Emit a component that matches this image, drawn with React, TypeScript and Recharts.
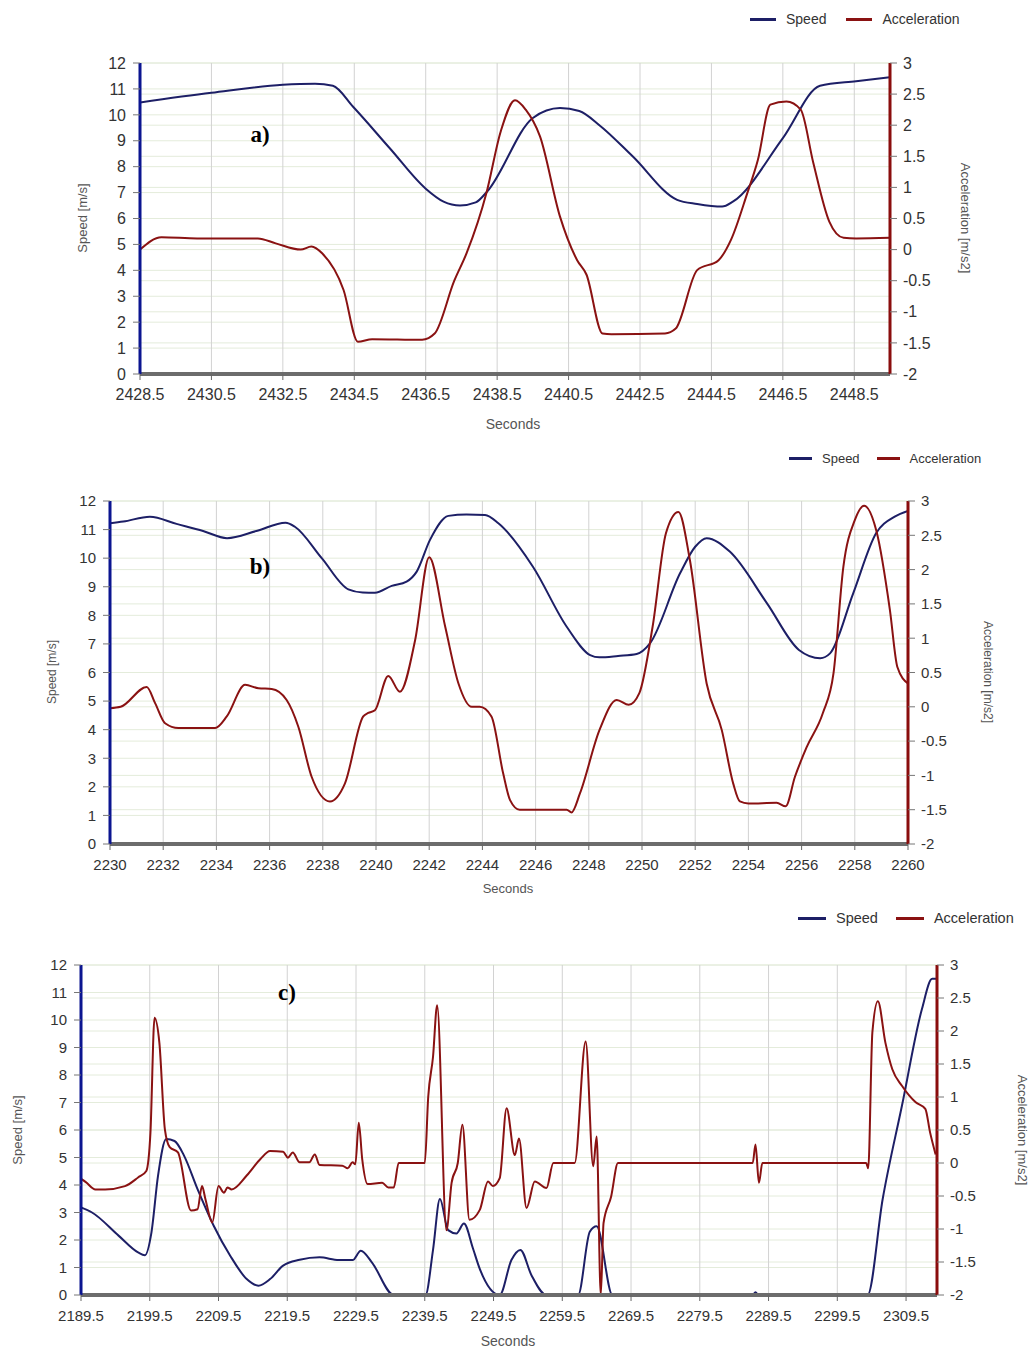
import React from 'react'
import { LineChart, Line, XAxis, YAxis, CartesianGrid, Legend, Label } from 'recharts'

const FONT = '"Liberation Sans", Arial, sans-serif'

// shared axes
const speedTicks = [0, 1, 2, 3, 4, 5, 6, 7, 8, 9, 10, 11, 12]
const accTicks = [-2, -1.5, -1, -0.5, 0, 0.5, 1, 1.5, 2, 2.5, 3]
const seriesOrder = ['Speed', 'Acceleration']

// panel a)
const xTicksA = [2428.5, 2430.5, 2432.5, 2434.5, 2436.5, 2438.5, 2440.5, 2442.5, 2444.5, 2446.5, 2448.5]
const speedTimeA = [2428.5, 2430.5, 2432.5, 2433.4, 2433.9, 2434.46, 2435.5, 2436.5, 2437.0, 2437.46, 2437.9, 2438.22, 2439.5, 2440.26, 2440.8, 2441.38, 2442.3, 2443.54, 2444.1, 2444.8, 2445.1, 2446.5, 2447.54, 2448.55, 2449.5]
const speedA = [10.48, 10.85, 11.16, 11.2, 11.12, 10.32, 8.7, 7.15, 6.65, 6.5, 6.62, 7.04, 9.88, 10.26, 10.15, 9.58, 8.39, 6.72, 6.56, 6.46, 6.65, 9.1, 11.12, 11.3, 11.45]
const accTimeA = [2428.5, 2429.1, 2430.1, 2431.8, 2432.3, 2433.0, 2433.3, 2433.6, 2434.2, 2434.6, 2435.0, 2436.4, 2436.75, 2437.3, 2437.65, 2438.2, 2438.6, 2439.0, 2439.3, 2439.7, 2440.26, 2440.74, 2441.0, 2441.45, 2441.7, 2443.2, 2443.5, 2444.1, 2444.7, 2445.05, 2445.5, 2445.8, 2446.15, 2446.6, 2447.0, 2447.35, 2447.8, 2448.2, 2448.55, 2449.5]
const accA = [0.0, 0.2, 0.18, 0.18, 0.1, 0.0, 0.05, -0.06, -0.65, -1.48, -1.44, -1.45, -1.35, -0.5, -0.05, 0.91, 1.9, 2.4, 2.25, 1.82, 0.53, -0.17, -0.4, -1.35, -1.36, -1.35, -1.27, -0.33, -0.17, 0.16, 0.9, 1.44, 2.33, 2.38, 2.25, 1.4, 0.45, 0.19, 0.18, 0.19]

// panel b)
const xTicksB = [2230, 2232, 2234, 2236, 2238, 2240, 2242, 2244, 2246, 2248, 2250, 2252, 2254, 2256, 2258, 2260]
const speedTimeB = [2230, 2230.5, 2231.5, 2232.5, 2233.5, 2234.4, 2235.5, 2236.6, 2236.95, 2237.96, 2238.96, 2239.5, 2239.96, 2240.59, 2241.15, 2241.53, 2242.03, 2242.72, 2243.4, 2244.1, 2244.6, 2245.9, 2247.17, 2248.05, 2248.4, 2249.1, 2249.8, 2250.3, 2251.43, 2252.0, 2252.43, 2253.3, 2254.7, 2255.9, 2256.7, 2257.07, 2257.94, 2258.8, 2259.5, 2260]
const speedB = [11.22, 11.28, 11.45, 11.2, 10.95, 10.7, 10.95, 11.24, 11.1, 10.0, 8.91, 8.8, 8.79, 9.03, 9.18, 9.53, 10.64, 11.48, 11.53, 11.51, 11.22, 9.7, 7.6, 6.61, 6.53, 6.58, 6.65, 7.02, 9.47, 10.4, 10.7, 10.23, 8.42, 6.79, 6.5, 6.67, 8.77, 10.87, 11.45, 11.65]
const accTimeB = [2230, 2230.4, 2231.38, 2231.7, 2232.07, 2232.57, 2233.95, 2234.39, 2235.08, 2235.58, 2236.08, 2236.64, 2237.08, 2237.58, 2238.27, 2238.83, 2239.52, 2239.71, 2239.96, 2240.46, 2240.9, 2241.47, 2242.0, 2242.6, 2243.1, 2243.6, 2243.9, 2244.34, 2244.78, 2245.04, 2245.4, 2245.9, 2247.17, 2247.35, 2247.67, 2248.4, 2249.05, 2249.5, 2249.9, 2250.4, 2250.9, 2251.37, 2251.8, 2252.43, 2253.0, 2253.43, 2253.68, 2254.0, 2255.06, 2255.4, 2255.75, 2256.2, 2256.8, 2257.2, 2257.57, 2258.0, 2258.35, 2258.82, 2259.32, 2259.6, 2260]
const accB = [-0.02, 0.0, 0.29, 0.05, -0.24, -0.31, -0.31, -0.14, 0.32, 0.27, 0.26, 0.1, -0.29, -1.02, -1.38, -1.12, -0.14, -0.09, -0.05, 0.45, 0.22, 0.97, 2.18, 1.17, 0.34, 0.0, 0.0, -0.14, -0.97, -1.36, -1.5, -1.5, -1.5, -1.54, -1.26, -0.34, 0.1, 0.03, 0.2, 1.17, 2.53, 2.84, 2.14, 0.34, -0.34, -1.12, -1.38, -1.41, -1.4, -1.45, -1.02, -0.58, -0.09, 0.49, 2.04, 2.72, 2.93, 2.55, 1.41, 0.58, 0.34]

// panel c)
const xTicksC = [2189.5, 2199.5, 2209.5, 2219.5, 2229.5, 2239.5, 2249.5, 2259.5, 2269.5, 2279.5, 2289.5, 2299.5, 2309.5]
const speedTimeC = [2189.5, 2191.1, 2195.0, 2197.8, 2198.8, 2199.75, 2200.7, 2201.9, 2203.1, 2204.5, 2206.45, 2208.8, 2211.2, 2213.6, 2215.3, 2217.0, 2218.9, 2221.3, 2224.2, 2227.0, 2229.0, 2230.2, 2231.8, 2235.0, 2239.6, 2240.7, 2241.7, 2242.9, 2244.1, 2245.2, 2246.5, 2247.5, 2250.4, 2252.1, 2253.4, 2255.0, 2257.2, 2261.8, 2263.5, 2264.5, 2266.8, 2287.2, 2287.6, 2288.0, 2303.9, 2306.1, 2308.9, 2311.8, 2313.3, 2313.9]
const speedC = [3.18, 3.0, 2.15, 1.55, 1.45, 2.28, 4.33, 5.67, 5.6, 5.06, 3.85, 2.52, 1.43, 0.58, 0.34, 0.58, 1.07, 1.28, 1.37, 1.27, 1.27, 1.61, 1.19, 0, 0, 1.64, 3.49, 2.36, 2.24, 2.6, 1.7, 0.95, 0, 1.27, 1.64, 0.73, 0, 0, 2.3, 2.5, 0, 0, 0.1, 0, 0, 3.49, 6.88, 10.39, 11.5, 11.5]
const accTimeC = [2189.5, 2190.2, 2191.6, 2193.0, 2195.9, 2197.8, 2199.0, 2199.6, 2200.2, 2200.9, 2201.7, 2202.4, 2203.6, 2205.5, 2206.45, 2207.1, 2207.6, 2208.6, 2209.5, 2210.3, 2210.8, 2211.4, 2213.6, 2215.6, 2217.0, 2218.9, 2219.6, 2220.3, 2221.3, 2222.7, 2223.5, 2224.2, 2227.5, 2228.3, 2229.0, 2229.4, 2229.9, 2230.4, 2231.2, 2233.3, 2234.2, 2235.0, 2235.7, 2239.5, 2240.0, 2240.7, 2241.3, 2242.65, 2243.4, 2244.3, 2244.97, 2246.0, 2247.5, 2248.7, 2249.4, 2250.4, 2251.4, 2252.6, 2253.2, 2254.3, 2255.5, 2257.2, 2258.2, 2261.3, 2262.9, 2264.0, 2264.5, 2265.1, 2265.5, 2266.6, 2267.6, 2287.2, 2287.6, 2288.1, 2288.6, 2303.7, 2304.0, 2304.6, 2305.4, 2306.5, 2307.5, 2308.9, 2310.9, 2312.3, 2313.0, 2313.8]
const accC = [-0.24, -0.29, -0.4, -0.4, -0.35, -0.22, -0.12, 0.46, 2.2, 1.82, 0.51, 0.24, 0.16, -0.72, -0.7, -0.35, -0.55, -0.9, -0.35, -0.45, -0.37, -0.4, -0.19, 0.06, 0.18, 0.17, 0.08, 0.16, 0.01, 0.01, 0.13, -0.03, -0.04, -0.08, 0.01, -0.02, 0.61, 0.06, -0.32, -0.3, -0.37, -0.37, 0.0, 0, 1.0, 1.61, 2.39, -1.02, -0.3, 0.0, 0.58, -0.86, -0.71, -0.28, -0.35, -0.23, 0.83, 0.12, 0.37, -0.68, -0.28, -0.38, 0.0, 0, 1.84, -0.05, 0.4, -2.0, -0.91, -0.51, 0.0, 0.0, 0.28, -0.3, 0.0, 0.0, -0.08, 1.98, 2.45, 1.82, 1.42, 1.17, 0.92, 0.82, 0.46, 0.13]

const SPEED_COLOR = '#1d1f66'
const ACC_COLOR = '#8a1212'

const rows = (t: number[], v: number[]) => t.map((x, i) => ({ t: x, v: v[i] }))

const axisTitle = (text: string, x: number, y: number, angle: number, size: number) => () => (
  <text
    x={x}
    y={y}
    transform={angle ? `rotate(${angle} ${x} ${y})` : undefined}
    textAnchor="middle"
    dominantBaseline="central"
    fill="#555"
    fontSize={size}
    fontFamily={FONT}
  >
    {text}
  </text>
)

const legendContent = (fontSize: number, swatch: number, gap: number) => (props: any) => {
  const items = [...(props.payload || [])].sort(
    (a: any, b: any) => seriesOrder.indexOf(a.value) - seriesOrder.indexOf(b.value)
  )
  return (
    <div style={{ display: 'flex', alignItems: 'center', fontFamily: FONT, fontSize, color: '#333', whiteSpace: 'nowrap' }}>
      {items.map((p: any) => (
        <span key={p.value} style={{ display: 'flex', alignItems: 'center', marginRight: gap }}>
          <span style={{ display: 'inline-block', width: swatch, height: 3, background: p.color, marginRight: 10 }} />
          {p.value}
        </span>
      ))}
    </div>
  )
}

type PanelProps = {
  top: number
  height: number
  margin: { top: number; right: number; bottom: number; left: number }
  domain: [number, number]
  xTicks: number[]
  speed: { t: number; v: number }[]
  acc: { t: number; v: number }[]
  tickFont: number
  legendFont: number
  legendSwatch: number
  legendGap: number
  legendAt: { top: number; left: number }
  titleFont: number
  leftTitle: [number, number]
  rightTitle: [number, number]
  bottomTitle: [number, number]
  letter: string
  letterAt: [number, number]
}

function Panel(p: PanelProps) {
  const tick = { fill: '#333', fontSize: p.tickFont, fontFamily: FONT }
  return (
    <div style={{ position: 'absolute', left: 0, top: p.top, width: 1033, height: p.height }}>
      <LineChart width={1033} height={p.height} margin={p.margin}>
        <CartesianGrid yAxisId="speed" vertical={false} stroke="#e4ecdb" />
        <CartesianGrid yAxisId="acc" vertical={false} stroke="#e4ecdb" />
        <CartesianGrid horizontal={false} stroke="#d2d2d2" />
        <XAxis
          type="number"
          dataKey="t"
          domain={p.domain}
          ticks={p.xTicks}
          interval={0}
          allowDataOverflow
          height={30}
          tickSize={6}
          tickMargin={9}
          tick={tick}
          tickLine={{ stroke: '#666' }}
          axisLine={{ stroke: '#6c6c6c', strokeWidth: 4 }}
        >
          <Label content={axisTitle('Seconds', p.bottomTitle[0], p.bottomTitle[1], 0, p.titleFont + 1)} />
        </XAxis>
        <YAxis
          yAxisId="speed"
          orientation="left"
          domain={[0, 12]}
          ticks={speedTicks}
          interval={0}
          width={60}
          tickSize={7}
          tickMargin={7}
          tick={tick}
          tickLine={{ stroke: '#777' }}
          axisLine={{ stroke: '#0b1590', strokeWidth: 3 }}
        >
          <Label content={axisTitle('Speed [m/s]', p.leftTitle[0], p.leftTitle[1], -90, p.titleFont)} />
        </YAxis>
        <YAxis
          yAxisId="acc"
          orientation="right"
          domain={[-2, 3]}
          ticks={accTicks}
          interval={0}
          width={60}
          tickSize={7}
          tickMargin={6}
          tick={tick}
          tickLine={{ stroke: '#777' }}
          axisLine={{ stroke: '#8a0d0d', strokeWidth: 3 }}
        >
          <Label content={axisTitle('Acceleration [m/s2]', p.rightTitle[0], p.rightTitle[1], 90, p.titleFont)} />
        </YAxis>
        <Legend
          layout="horizontal"
          verticalAlign="middle"
          align="center"
          wrapperStyle={{ top: p.legendAt.top, left: p.legendAt.left, width: 'auto', height: 'auto' }}
          content={legendContent(p.legendFont, p.legendSwatch, p.legendGap)}
        />
        <Line
          name="Speed"
          yAxisId="speed"
          data={p.speed}
          dataKey="v"
          type="monotone"
          stroke={SPEED_COLOR}
          strokeWidth={2}
          dot={false}
          isAnimationActive={false}
        />
        <Line
          name="Acceleration"
          yAxisId="acc"
          data={p.acc}
          dataKey="v"
          type="monotone"
          stroke={ACC_COLOR}
          strokeWidth={2}
          dot={false}
          isAnimationActive={false}
        />
      </LineChart>
      <div
        style={{
          position: 'absolute',
          left: p.letterAt[0],
          top: p.letterAt[1],
          transform: 'translate(-50%, -50%)',
          fontFamily: '"Liberation Serif", "Times New Roman", serif',
          fontWeight: 'bold',
          fontSize: 23,
          color: '#000',
        }}
      >
        {p.letter}
      </div>
    </div>
  )
}

export default function App() {
  return (
    <div style={{ position: 'absolute', left: 0, top: 0, width: 1033, height: 1349, background: '#fff' }}>
      <Panel
        top={0}
        height={440}
        margin={{ top: 63, right: 83, bottom: 36, left: 80 }}
        domain={[2428.5, 2449.5]}
        xTicks={xTicksA}
        speed={rows(speedTimeA, speedA)}
        acc={rows(accTimeA, accA)}
        tickFont={16}
        legendFont={14}
        legendSwatch={26}
        legendGap={20}
        legendAt={{ top: 11, left: 750 }}
        titleFont={13}
        leftTitle={[82, 218]}
        rightTitle={[965, 218]}
        bottomTitle={[513, 424]}
        letter="a)"
        letterAt={[260, 135]}
      />
      <Panel
        top={445}
        height={450}
        margin={{ top: 56, right: 65, bottom: 21, left: 50 }}
        domain={[2230, 2260]}
        xTicks={xTicksB}
        speed={rows(speedTimeB, speedB)}
        acc={rows(accTimeB, accB)}
        tickFont={15}
        legendFont={13}
        legendSwatch={23}
        legendGap={17}
        legendAt={{ top: 6, left: 789 }}
        titleFont={12}
        leftTitle={[52, 227]}
        rightTitle={[988, 227]}
        bottomTitle={[508, 443]}
        letter="b)"
        letterAt={[260, 122]}
      />
      <Panel
        top={900}
        height={449}
        margin={{ top: 65, right: 36, bottom: 24, left: 21 }}
        domain={[2189.5, 2314]}
        xTicks={xTicksC}
        speed={rows(speedTimeC, speedC)}
        acc={rows(accTimeC, accC)}
        tickFont={15}
        legendFont={14.5}
        legendSwatch={28}
        legendGap={18}
        legendAt={{ top: 10, left: 798 }}
        titleFont={13}
        leftTitle={[17, 230]}
        rightTitle={[1022, 230]}
        bottomTitle={[508, 441]}
        letter="c)"
        letterAt={[287, 93]}
      />
    </div>
  )
}
